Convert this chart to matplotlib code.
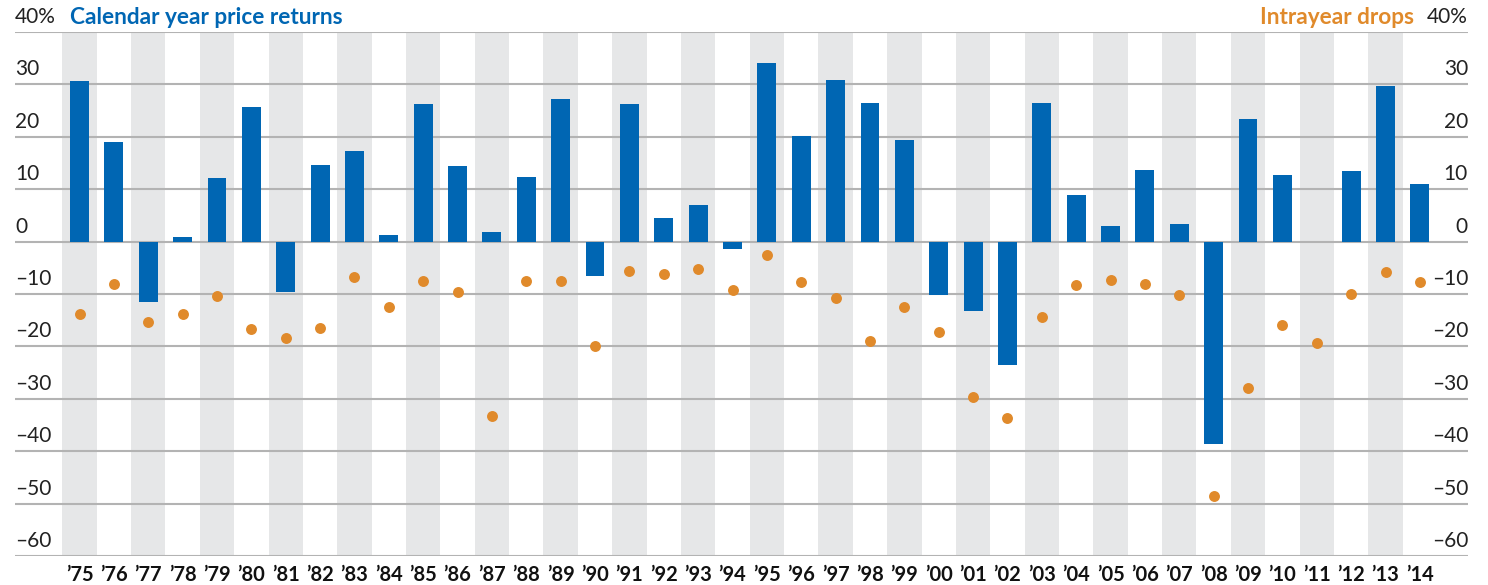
import matplotlib
matplotlib.use("Agg")
import matplotlib.pyplot as plt
import matplotlib.transforms as mtransforms

plt.rcParams['font.family'] = ['Lato', 'DejaVu Sans']

years = ["\u201975", "\u201976", "\u201977", "\u201978", "\u201979", "\u201980", "\u201981", "\u201982",
         "\u201983", "\u201984", "\u201985", "\u201986", "\u201987", "\u201988", "\u201989", "\u201990",
         "\u201991", "\u201992", "\u201993", "\u201994", "\u201995", "\u201996", "\u201997", "\u201998",
         "\u201999", "\u201900", "\u201901", "\u201902", "\u201903", "\u201904", "\u201905", "\u201906",
         "\u201907", "\u201908", "\u201909", "\u201910", "\u201911", "\u201912", "\u201913", "\u201914"]

returns = [30.7, 19.0, -11.5, 0.9, 12.2, 25.7, -9.6, 14.7, 17.2, 1.3,
           26.2, 14.5, 1.9, 12.3, 27.2, -6.6, 26.2, 4.5, 7.0, -1.4,
           34.1, 20.2, 30.9, 26.5, 19.4, -10.2, -13.2, -23.5, 26.4, 8.9,
           3.0, 13.6, 3.4, -38.6, 23.4, 12.7, 0.0, 13.5, 29.6, 10.9]

drops = [-13.8, -8.1, -15.3, -13.8, -10.4, -16.7, -18.4, -16.5, -6.8, -12.5,
         -7.5, -9.6, -33.3, -7.5, -7.5, -19.9, -5.6, -6.2, -5.2, -9.2,
         -2.5, -7.7, -10.8, -19.0, -12.4, -17.3, -29.6, -33.7, -14.3, -8.3,
         -7.3, -8.0, -10.2, -48.6, -28.0, -16.0, -19.4, -10.0, -5.8, -7.7]

y_ticks = [40, 30, 20, 10, 0, -10, -20, -30, -40, -50, -60]
y_tick_labels = ["40%", "30", "20", "10", "0", "\u201310", "\u201320", "\u201330", "\u201340", "\u201350", "\u201360"]

BLUE = "#0066B3"
ORANGE = "#E08A2B"
GREY_BAND = "#E6E7E8"
GRID = "#B3B3B3"

W, H = 1488, 585
fig = plt.figure(figsize=(W / 100, H / 100), dpi=100)
ax_left, ax_right, ax_top, ax_bottom = 15, 1468, 32, 556
ax = fig.add_axes([ax_left / W, (H - ax_bottom) / H, (ax_right - ax_left) / W, (ax_bottom - ax_top) / H])

x = list(range(len(years)))
ax.set_xlim(-1.877, 40.4)
ax.set_ylim(-60, 40)
for s in ax.spines.values():
    s.set_visible(False)
ax.set_xticks([])
ax.set_yticks([])

# alternating grey bands
for i in x:
    if i % 2 == 0:
        ax.axvspan(i - 0.5, i + 0.5, color=GREY_BAND, lw=0, zorder=0)

# gridlines
for t in y_ticks:
    ax.axhline(t, color=GRID, lw=1.5, zorder=1)

ax.bar(x, returns, width=0.55, color=BLUE, zorder=2)
ax.scatter(x, drops, s=62, color=ORANGE, zorder=3, linewidths=0)

# y tick labels
trans = mtransforms.blended_transform_factory(ax.transAxes, ax.transData)
offs = mtransforms.offset_copy(trans, fig=fig, x=0, y=5, units='dots')
for t, lab in zip(y_ticks, y_tick_labels):
    ax.text(0, t, lab, transform=offs, ha='left', va='bottom', fontsize=15, color='#222222')
    ax.text(1, t, lab, transform=offs, ha='right', va='bottom', fontsize=15, color='#222222')

# x labels
transx = mtransforms.blended_transform_factory(ax.transData, ax.transAxes)
offx = mtransforms.offset_copy(transx, fig=fig, x=0, y=-25, units='dots')
for i, lab in zip(x, years):
    ax.text(i, 0, lab, transform=offx, ha='center', va='baseline', fontsize=14.5,
            fontweight='bold', color='#111111')

# titles
fig.text(70 / W, 1 - 18 / H, "Calendar year price returns", ha='left', va='center',
         fontsize=16.3, fontweight='bold', color=BLUE)
fig.text(1414 / W, 1 - 18 / H, "Intrayear drops", ha='right', va='center',
         fontsize=16.3, fontweight='bold', color=ORANGE)

fig.savefig("out.png", dpi=100)
